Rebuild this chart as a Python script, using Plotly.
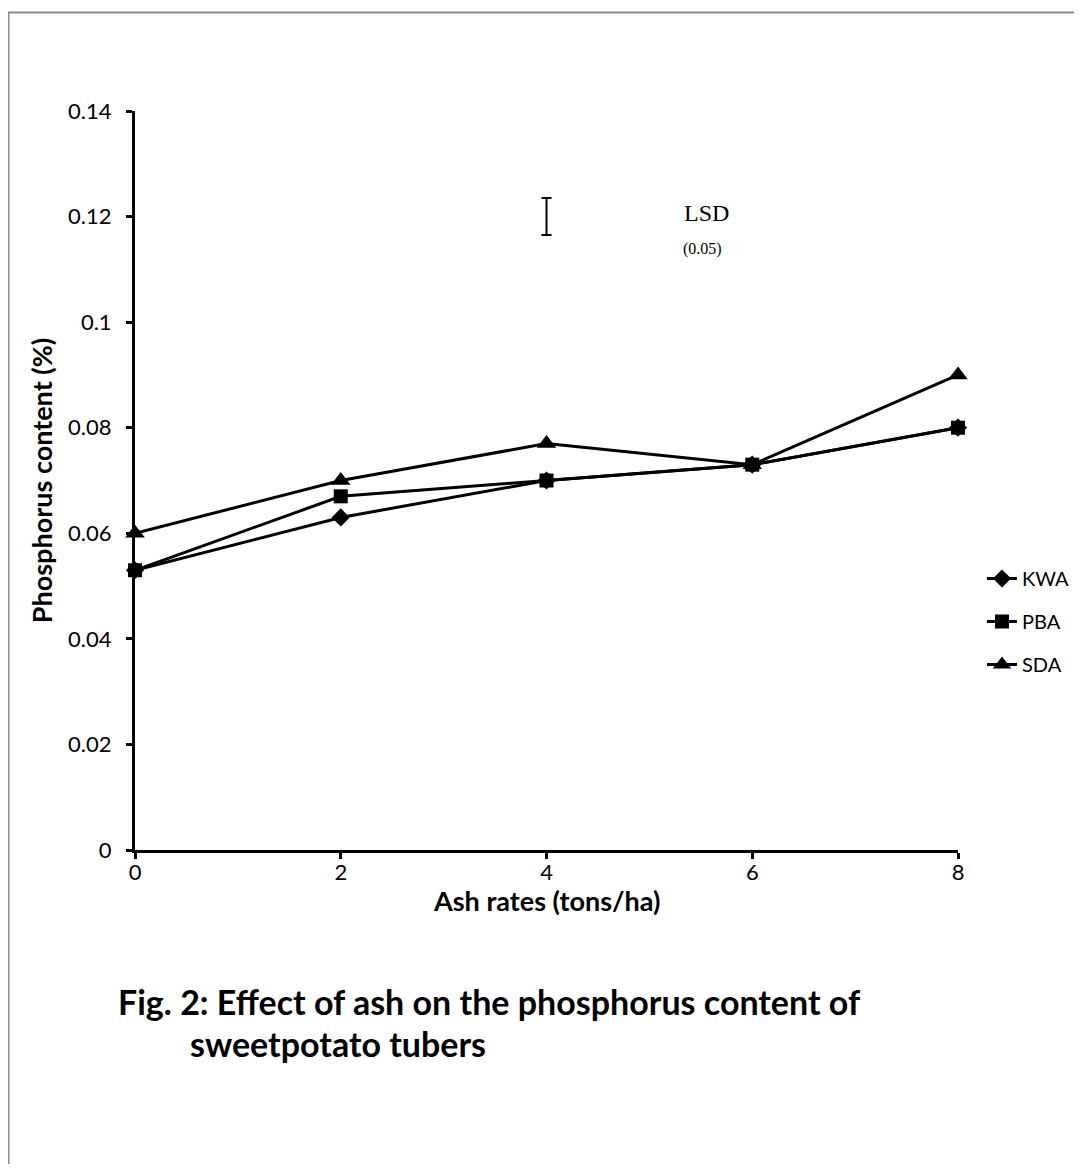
import plotly.graph_objects as go

ash_rates = [0, 2, 4, 6, 8]
kwa = [0.053, 0.063, 0.070, 0.073, 0.080]
pba = [0.053, 0.067, 0.070, 0.073, 0.080]
sda = [0.060, 0.070, 0.077, 0.073, 0.090]
series_names = ["KWA", "PBA", "SDA"]
symbols = ["diamond", "square", "triangle-up"]
marker_sizes = [14, 14, 17]
lsd_x = [4]
lsd_center = [0.12]
lsd_half = [0.0035]

OFF = 8  # default body margin of the html page
W, H = 1082 - 2 * OFF, 1172 - 2 * OFF
L, T = 135 - OFF, 111 - OFF
pw, ph = 958 - 135, 850 - 111
R, B = W - L - pw, H - T - ph

def px_x(page_px):
    return (page_px - OFF - L) / pw

def px_y(page_py):
    return (T + ph - (page_py - OFF)) / ph

SANS = "Lato, 'Open Sans', sans-serif"
SERIF = "'Liberation Serif', 'Times New Roman', serif"

fig = go.Figure()
for name, vals, sym, ms in zip(series_names, [kwa, pba, sda], symbols, marker_sizes):
    fig.add_trace(go.Scatter(
        x=ash_rates, y=vals, name=name, mode="lines+markers",
        line=dict(color="black", width=3),
        marker=dict(symbol=sym, size=ms, color="black"),
        legendgroup=name, cliponaxis=False,
    ))

fig.add_trace(go.Scatter(
    x=lsd_x, y=lsd_center, mode="markers", showlegend=False,
    marker=dict(size=1, color="rgba(0,0,0,0)"),
    error_y=dict(type="data", array=lsd_half, visible=True, color="black", thickness=2, width=5),
    hoverinfo="skip",
))

fig.update_layout(
    width=W, height=H,
    margin=dict(l=L, r=R, t=T, b=B, autoexpand=False),
    paper_bgcolor="white", plot_bgcolor="white",
    font=dict(family=SANS, color="black", size=22),
    showlegend=True,
    legend=dict(x=px_x(982), y=px_y(559), xanchor="left", yanchor="top",
                font=dict(family=SANS, size=20, color="black"),
                tracegroupgap=14, bgcolor="rgba(0,0,0,0)", itemwidth=30),
    xaxis=dict(range=[0, 8], tickvals=[0, 2, 4, 6, 8], showgrid=False, zeroline=False,
               showline=True, linecolor="black", linewidth=3,
               ticks="outside", ticklen=6, tickwidth=3, tickcolor="black",
               tickfont=dict(family=SANS, size=22), ticklabelstandoff=-5),
    yaxis=dict(range=[0, 0.14], tickvals=[0, 0.02, 0.04, 0.06, 0.08, 0.1, 0.12, 0.14],
               ticktext=["0", "0.02", "0.04", "0.06", "0.08", "0.1", "0.12", "0.14"],
               showgrid=False, zeroline=False,
               showline=True, linecolor="black", linewidth=3,
               ticks="outside", ticklen=6, tickwidth=3, tickcolor="black",
               tickfont=dict(family=SANS, size=22), ticklabelstandoff=10,
               title=dict(text="<b>Phosphorus content (%)</b>", font=dict(family=SANS, size=27), standoff=8)),
)

fig.add_annotation(x=0.5, y=px_y(900), xref="paper", yref="paper", xanchor="center", yanchor="middle",
                   text="<b>Ash rates (tons/ha)</b>", showarrow=False,
                   font=dict(family=SANS, size=27, color="black"))

fig.add_annotation(x=5.56, y=0.1207, xref="x", yref="y", text="LSD", showarrow=False,
                   font=dict(family=SERIF, size=24, color="black"))
fig.add_annotation(x=5.52, y=0.1138, xref="x", yref="y", text="(0.05)", showarrow=False,
                   font=dict(family=SERIF, size=16, color="black"))

fig.add_annotation(x=px_x(116), y=px_y(1001), xref="paper", yref="paper", xanchor="left", yanchor="middle",
                   text="<b>Fig. 2: Effect of ash on the phosphorus content of</b>", showarrow=False,
                   font=dict(family=SANS, size=34, color="black"))
fig.add_annotation(x=px_x(188), y=px_y(1043), xref="paper", yref="paper", xanchor="left", yanchor="middle",
                   text="<b>sweetpotato tubers</b>", showarrow=False,
                   font=dict(family=SANS, size=34, color="black"))

# page border
fig.add_shape(type="line", xref="paper", yref="paper", x0=px_x(8), x1=px_x(1082), y0=px_y(12.5), y1=px_y(12.5),
              line=dict(color="#8c8c8c", width=2))
fig.add_shape(type="line", xref="paper", yref="paper", x0=px_x(8.5), x1=px_x(8.5), y0=px_y(12), y1=px_y(1172),
              line=dict(color="#8c8c8c", width=2))

fig.write_html("out.html")
